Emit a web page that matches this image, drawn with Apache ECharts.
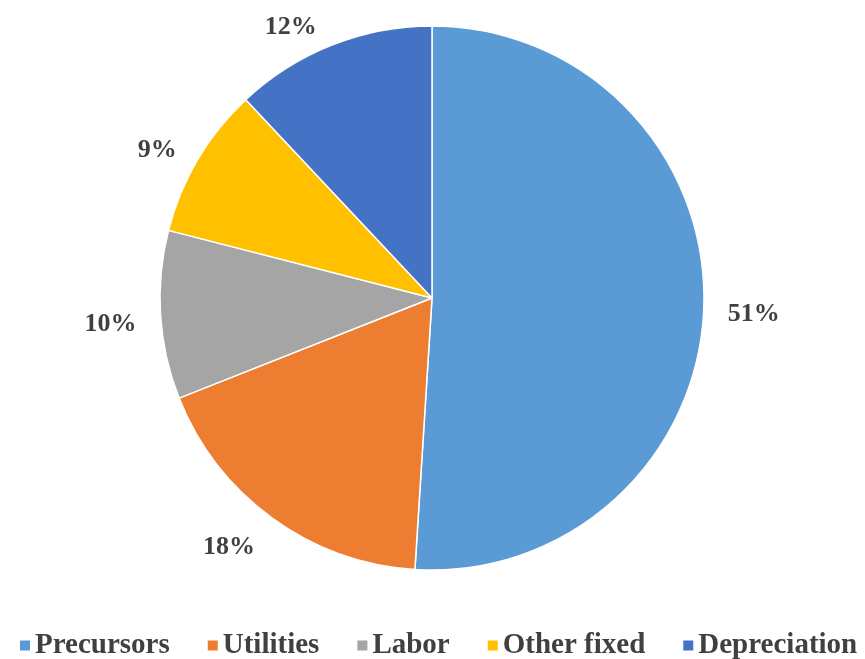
<!DOCTYPE html>
<html>
<head>
<meta charset="utf-8">
<script src="https://cdn.jsdelivr.net/npm/echarts@6/dist/echarts.min.js"></script>
<style>
  html, body { margin: 0; padding: 0; background: #fff; }
  #chart { width: 865px; height: 659px; }
</style>
</head>
<body>
<div id="chart"></div>
<script>
// Cost breakdown shares (percent)
const categories = ['Precursors', 'Utilities', 'Labor', 'Other fixed', 'Depreciation'];
const shares = [51, 18, 10, 9, 12];
const colors = ['#5B9BD5', '#ED7D31', '#A5A5A5', '#FFC000', '#4472C4'];

const FONT = '"Liberation Serif", "Times New Roman", serif';
const TEXT = '#404040';

// Small per-slice nudges for the percentage labels (pixels)
const labelNudge = {
  'Precursors':   [5, 7],
  'Utilities':    [-4, 18],
  'Labor':        [-5, 8],
  'Other fixed':  [-4, -2],
  'Depreciation': [-5, -5]
};

const chart = echarts.init(document.getElementById('chart'), null, { renderer: 'canvas' });

chart.setOption({
  animation: false,
  backgroundColor: '#ffffff',
  color: colors,
  legend: {
    top: 626,
    left: 13,
    icon: 'rect',
    itemWidth: 12,
    itemHeight: 12,
    itemGap: 36,
    textStyle: { fontFamily: FONT, fontWeight: 'bold', fontSize: 29, color: TEXT, padding: [0, 0, 0, -1] },
    data: categories
  },
  series: [{
    type: 'pie',
    center: [432, 298],
    radius: 272,
    startAngle: 90,
    clockwise: true,
    itemStyle: { borderColor: '#ffffff', borderWidth: 1.5 },
    label: {
      show: true,
      position: 'outside',
      formatter: p => p.value + '%',
      fontFamily: FONT,
      fontWeight: 'bold',
      fontSize: 26,
      color: TEXT
    },
    labelLine: { show: false, length: 14, length2: 0 },
    labelLayout: params => {
      const n = labelNudge[categories[params.dataIndex]] || [0, 0];
      return { dx: n[0], dy: n[1] };
    },
    emphasis: { disabled: true },
    data: categories.map((name, i) => ({ name, value: shares[i] }))
  }]
});
</script>
</body>
</html>
